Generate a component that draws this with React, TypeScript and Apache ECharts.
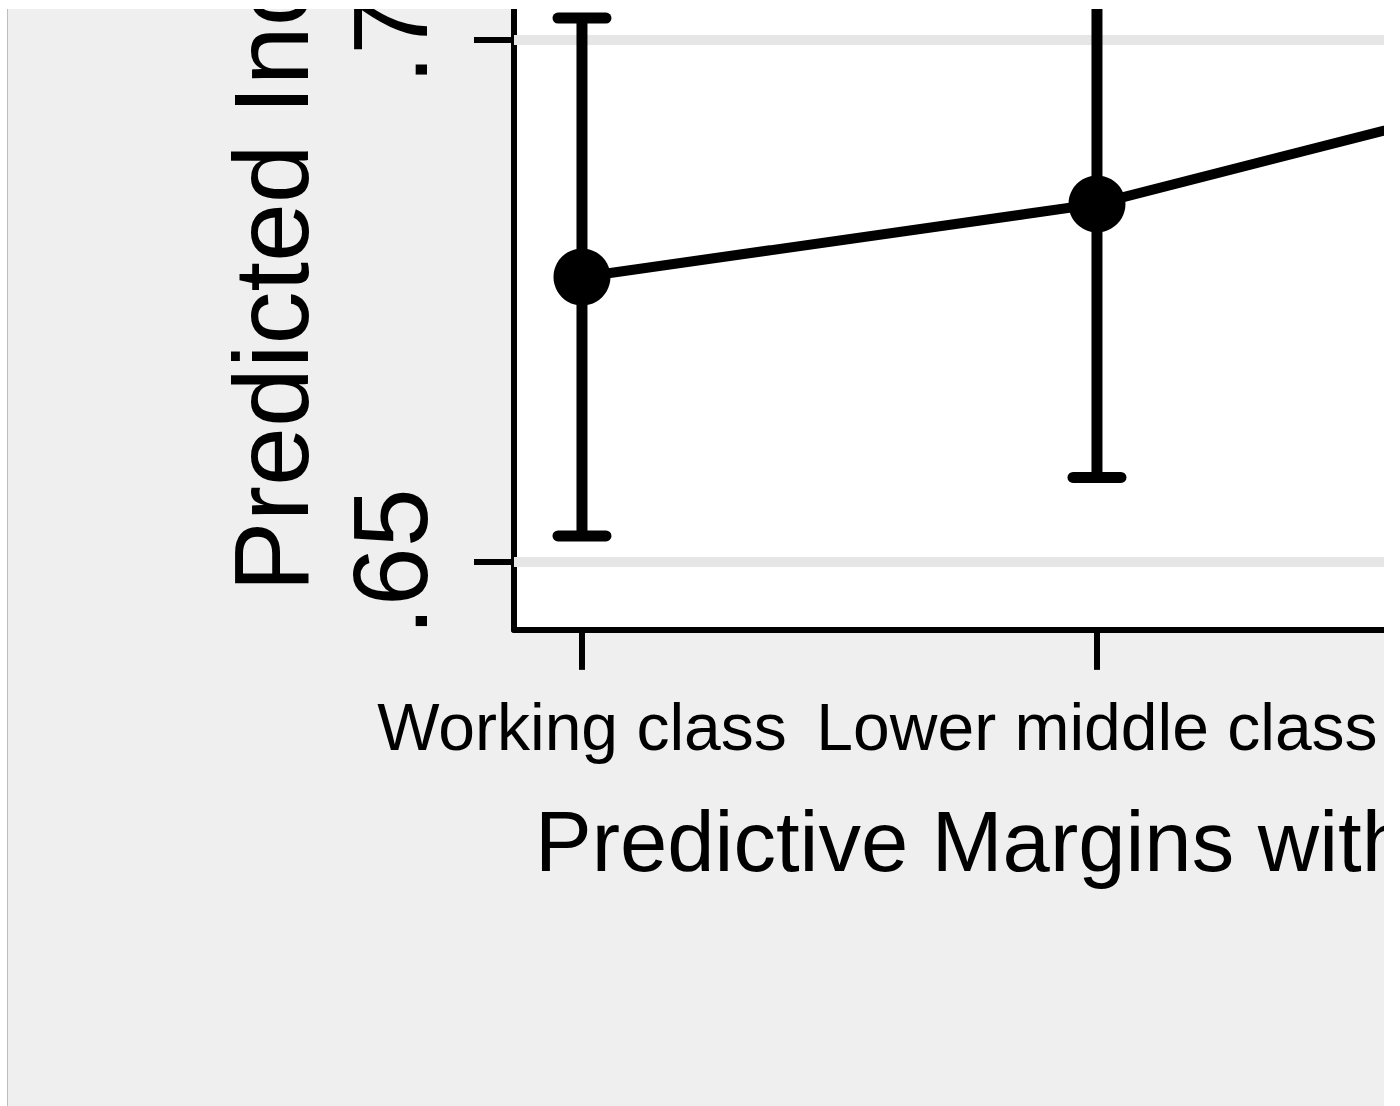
import React, { useEffect, useRef } from 'react';
import * as echarts from 'echarts';

// ---- data ----
const categories = ['Working class', 'Lower middle class', 'Upper middle class'];
const categoryPositions = [1, 2, 3];
const margins = [0.6773, 0.6843, 0.6969];
const ciLower = [0.6525, 0.6581, 0.6790];
const ciUpper = [0.7021, 0.7105, 0.7148];
const yTickValues = [0.65, 0.7];
const yTickLabels = ['.65', '.7'];
const titleText = 'Predictive Margins with 95% CIs';
const yTitleText = 'Predicted Income';

// ---- layout (chart is larger than the visible, clipped window) ----
const FONT = '"Liberation Sans", Arial, sans-serif';
const CHART_W = 2400;
const CHART_H = 1400;
const SHIFT_Y = 300;
const X_MIN = 0.868;
const X_MAX = 3.132;
const Y_MIN = 0.6435;
const Y_MAX = 0.73;
const PX_PER_X = 515;
const PX_PER_Y = 10440;
const GRID_LEFT = 506;
const GRID_BOTTOM_Y = 920.86;

export default function App() {
  const ref = useRef<HTMLDivElement>(null);

  useEffect(() => {
    if (!ref.current) return;
    const chart = echarts.init(ref.current, undefined, { renderer: 'svg' });
    const gridWidth = (X_MAX - X_MIN) * PX_PER_X;
    const gridHeight = (Y_MAX - Y_MIN) * PX_PER_Y;
    const gridTop = GRID_BOTTOM_Y - gridHeight;

    const findLabel = (v: number) => {
      const i = yTickValues.findIndex((t) => Math.abs(t - v) < 1e-9);
      return i >= 0 ? yTickLabels[i] : '';
    };
    const findCat = (v: number) => {
      const i = categoryPositions.findIndex((t) => Math.abs(t - v) < 1e-9);
      return i >= 0 ? categories[i] : '';
    };

    chart.setOption({
      animation: false,
      backgroundColor: 'transparent',
      grid: {
        left: GRID_LEFT,
        top: gridTop,
        width: gridWidth,
        height: gridHeight,
        show: true,
        backgroundColor: '#ffffff',
        borderWidth: 0,
        containLabel: false,
      },
      xAxis: {
        type: 'value',
        min: X_MIN,
        max: X_MAX,
        splitLine: { show: false },
        axisLine: { show: true, lineStyle: { color: '#000', width: 6 } },
        axisTick: {
          show: true,
          customValues: categoryPositions,
          length: 40,
          lineStyle: { color: '#000', width: 6 },
        },
        axisLabel: {
          customValues: categoryPositions,
          formatter: (v: number) => findCat(v),
          color: '#000',
          fontFamily: FONT,
          fontSize: 66,
          margin: 64,
        },
      },
      yAxis: {
        type: 'value',
        min: Y_MIN,
        max: Y_MAX,
        splitLine: { show: false },
        axisLine: { show: true, lineStyle: { color: '#000', width: 6 } },
        axisTick: {
          show: true,
          customValues: yTickValues,
          length: 40,
          lineStyle: { color: '#000', width: 6 },
        },
        axisLabel: {
          customValues: yTickValues,
          formatter: (v: number) => findLabel(v),
          rotate: 90,
          color: '#000',
          fontFamily: FONT,
          fontSize: 106,
          margin: 71,
        },
      },
      graphic: [
        {
          type: 'text',
          x: 262.5,
          y: 883,
          rotation: Math.PI / 2,
          style: {
            text: yTitleText,
            fill: '#000',
            font: `106px ${FONT}`,
            textAlign: 'left',
            textVerticalAlign: 'middle',
          },
        },
        {
          type: 'text',
          x: 527,
          y: 1132,
          style: {
            text: titleText,
            fill: '#000',
            font: `85px ${FONT}`,
            textAlign: 'left',
            textVerticalAlign: 'middle',
          },
        },
      ],
      series: [
        {
          type: 'custom',
          z: 1,
          silent: true,
          data: yTickValues.map((v) => [X_MIN, v]),
          encode: { x: 0, y: 1 },
          renderItem: (params: any, api: any) => {
            const p = api.coord([X_MIN, api.value(1)]);
            const cs = params.coordSys;
            return {
              type: 'line',
              shape: { x1: cs.x, y1: p[1], x2: cs.x + cs.width, y2: p[1] },
              style: { stroke: '#e6e6e6', lineWidth: 10 },
            };
          },
        },
        {
          type: 'custom',
          z: 3,
          data: categoryPositions.map((x, i) => [x, ciLower[i], ciUpper[i]]),
          encode: { x: 0, y: [1, 2] },
          renderItem: (params: any, api: any) => {
            const x = api.value(0);
            const lo = api.coord([x, api.value(1)]);
            const hi = api.coord([x, api.value(2)]);
            const half = 24;
            const style = { stroke: '#000', lineWidth: 11, lineCap: 'round' };
            return {
              type: 'group',
              children: [
                { type: 'line', shape: { x1: lo[0], y1: lo[1], x2: hi[0], y2: hi[1] }, style: { ...style, lineCap: 'butt' } },
                { type: 'line', shape: { x1: lo[0] - half, y1: lo[1], x2: lo[0] + half, y2: lo[1] }, style },
                { type: 'line', shape: { x1: hi[0] - half, y1: hi[1], x2: hi[0] + half, y2: hi[1] }, style },
              ],
            };
          },
        },
        {
          type: 'line',
          z: 5,
          data: categoryPositions.map((x, i) => [x, margins[i]]),
          symbol: 'circle',
          symbolSize: 57,
          itemStyle: { color: '#000' },
          lineStyle: { color: '#000', width: 10 },
        },
      ],
    });
    return () => chart.dispose();
  }, []);

  return (
    <div
      style={{
        position: 'fixed',
        left: 7,
        top: 9,
        width: 1377,
        height: 1097,
        borderLeft: '1px solid #bdbdbd',
        boxSizing: 'border-box',
        overflow: 'hidden',
        background: '#efefef',
      }}
    >
      <div
        ref={ref}
        style={{ position: 'absolute', left: 0, top: -SHIFT_Y, width: CHART_W, height: CHART_H }}
      />
    </div>
  );
}
